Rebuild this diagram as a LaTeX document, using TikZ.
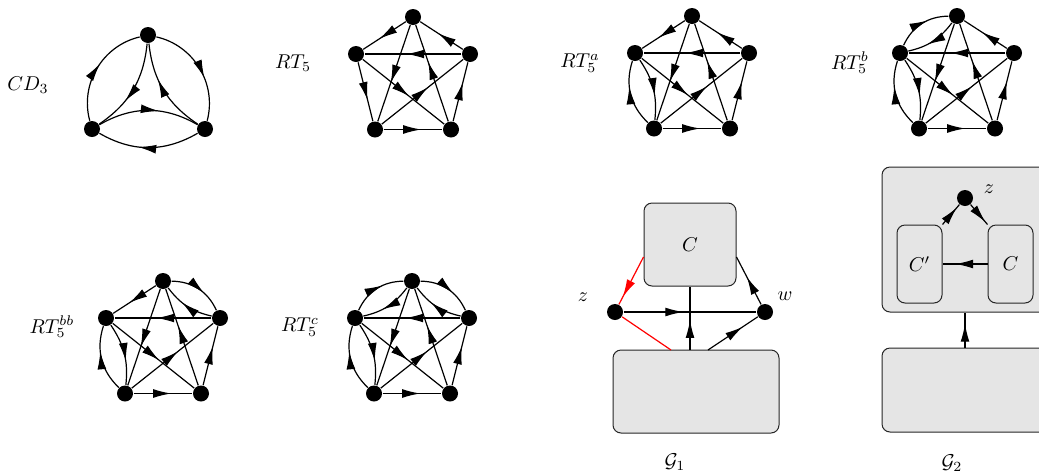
\documentclass[tikz,border=0pt]{standalone}
\usetikzlibrary{arrows.meta,decorations.markings,calc}
\newcommand\pentnodes[3]{%
  \node[vtx] (#1T) at (#2,#3) {};
  \path (#2,#3) ++(-57,37) node[vtx] (#1L) {};
  \path (#2,#3) ++(57,37) node[vtx] (#1R) {};
  \path (#2,#3) ++(-38,112.5) node[vtx] (#1BL) {};
  \path (#2,#3) ++(38,112.5) node[vtx] (#1BR) {};}
\newcommand\pentcommon[1]{%
  \draw[ar=0.57] (#1L) -- (#1BR);
  \draw[ar=0.57] (#1BL) -- (#1R);
  \draw[ar=0.6] (#1T) -- (#1BL);
  \draw[ar=0.62] (#1BR) -- (#1T);
  \draw[ar=0.64] (#1BL) -- (#1BR);
  \draw[ar=0.66] (#1BR) -- (#1R);
  \draw[ar=0.57] (#1R) -- (#1L);}
\newcommand\dbledge[2]{%
  \draw[ar=0.62] (#1) to[bend left=32] (#2);
  \draw[ar=0.62] (#2) to[bend left=20] (#1);}
\begin{document}
\begin{tikzpicture}[x=0.5pt,y=-0.5pt,line width=0.6pt,
  vtx/.style={circle,fill=black,inner sep=0pt,minimum size=8pt},
  ar/.style={postaction={decorate},decoration={markings,mark=at position #1 with {\arrow{Latex[length=9pt,width=4.4pt]}}}},
  ar/.default=0.62,
  box/.style={draw=black!85,fill=black!10,rounded corners=4pt,line width=0.5pt,inner sep=0pt}]
\useasboundingbox (0,0) rectangle (1039,472);

% CD3
\node at (28,85) {$CD_3$};
\node[vtx] (ct) at (148,35) {};
\node[vtx] (cl) at (92,129) {};
\node[vtx] (cr) at (205,129) {};
\draw[ar=0.6] (ct) to[bend left=46] (cr);
\draw[ar=0.62] (cr) to[bend left=25] (ct);
\draw[ar=0.55] (cl) to[bend left=46] (ct);
\draw[ar=0.64] (ct) to[bend left=25] (cl);
\draw[ar=0.6] (cl) to[bend left=30] (cr);
\draw[ar=0.6] (cr) to[bend left=30] (cl);

% RT5
\node at (293,63) {$RT_5$};
\pentnodes{a}{413}{17}
\pentcommon{a}
\draw[ar] (aT) -- (aL);
\draw[ar=0.58] (aR) -- (aT);
\draw[ar=0.64] (aL) -- (aBL);

% RT5^a
\node at (580,63) {$RT_5^a$};
\pentnodes{b}{692}{16}
\pentcommon{b}
\draw[ar] (bT) -- (bL);
\draw[ar=0.58] (bR) -- (bT);
\dbledge{bBL}{bL}

% RT5^b
\node at (850,63) {$RT_5^b$};
\pentnodes{c}{957}{16}
\pentcommon{c}
\draw[ar=0.58] (cR) -- (cT);
\dbledge{cBL}{cL}
\dbledge{cL}{cT}

% RT5^bb
\node at (52,327) {$RT_5^{bb}$};
\pentnodes{d}{163}{281}
\pentcommon{d}
\draw[ar] (dT) -- (dL);
\dbledge{dBL}{dL}
\dbledge{dT}{dR}

% RT5^c
\node at (300,327) {$RT_5^c$};
\pentnodes{e}{412}{281}
\pentcommon{e}
\dbledge{eBL}{eL}
\dbledge{eL}{eT}
\dbledge{eT}{eR}

% G1
\node[box,minimum width=46pt,minimum height=41.5pt] (C1) at (690,244.5) {$C$};
\node[box,minimum width=83pt,minimum height=41.5pt] (B1) at (696,391.5) {};
\node[vtx] (z1) at (615,312) {};
\node[vtx] (w1) at (765,312) {};
\node at (583,297) {$z$};
\node at (785,296) {$w$};
\coordinate (b1r) at (671,350);
\coordinate (b1w) at (708,350);
\coordinate (b1c) at (C1.south |- B1.north);
\draw[red,ar=0.85] (C1.195) -- (z1);
\draw[red] (z1) -- (b1r);
\draw[ar=0.45] (z1) -- (w1);
\draw[ar=0.47] (b1c) -- (C1.south);
\draw[ar=0.7] (b1w) -- (w1);
\draw[ar=0.58] (w1) -- (C1.345);
\node at (675,462) {$\mathcal{G}_1$};

% G2
\node[box,minimum width=83pt,minimum height=72.5pt] (O2) at (965,239.5) {};
\node[box,minimum width=22.5pt,minimum height=39pt] (Cp) at (919.5,264) {$C'$};
\node[box,minimum width=22.5pt,minimum height=39pt] (C2) at (1010.5,264) {$C$};
\node[vtx] (z2) at (965,198) {};
\node at (989,189) {$z$};
\node[box,minimum width=83pt,minimum height=42pt] (B2) at (965,390) {};
\draw[ar=0.85] (Cp.north east) -- (z2);
\draw[ar=0.88] (z2) -- (C2.north west);
\draw[ar=0.72] (C2.west) -- (Cp.east);
\draw[ar=0.68] (B2.north) -- (O2.south);
\node at (952,463) {$\mathcal{G}_2$};
\end{tikzpicture}
\end{document}
